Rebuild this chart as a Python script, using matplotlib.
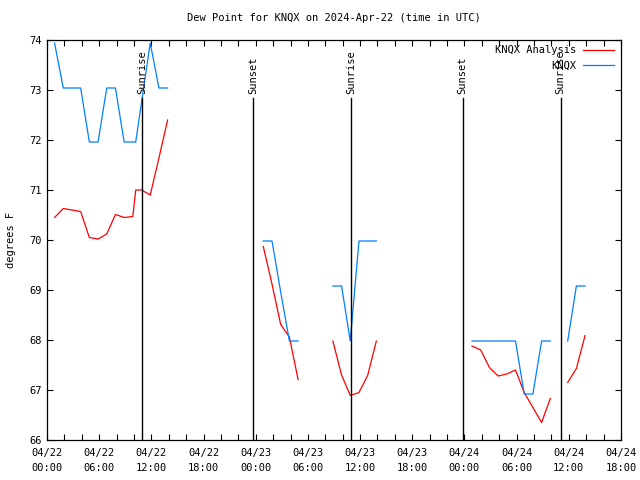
import matplotlib
matplotlib.use("Agg")
import matplotlib.pyplot as plt
import numpy as np

FONT = "DejaVu Sans Mono"
FS = 7.5

# hours since 2024-04-22 00:00 UTC
analysis_hours = [0.87, 1.87, 2.87, 3.87, 4.87, 5.87, 6.87, 7.87, 8.87, 9.87, 10.2, 10.87, 11.87, 12.87, 13.87,
                  24.87, 25.87, 26.87, 27.87, 28.87,
                  32.87, 33.87, 34.87, 35.87, 36.87, 37.87,
                  48.87, 49.87, 50.87, 51.87, 52.87, 53.87, 54.87, 55.87, 56.87, 57.87,
                  59.87, 60.87, 61.87]
analysis_vals = [70.45, 70.63, 70.60, 70.57, 70.05, 70.02, 70.12, 70.51, 70.45, 70.47, 71.00, 71.00, 70.90, 71.64, 72.40,
                 69.87, 69.12, 68.31, 68.06, 67.21,
                 67.98, 67.30, 66.89, 66.95, 67.29, 67.98,
                 67.88, 67.80, 67.45, 67.28, 67.32, 67.40, 66.95, 66.65, 66.35, 66.83,
                 67.15, 67.43, 68.09]

obs_hours = [0.87, 1.87, 2.87, 3.87, 4.87, 5.87, 6.87, 7.87, 8.87, 9.87, 10.2, 11.87, 12.87, 13.87,
             24.87, 25.87, 26.87, 27.87, 28.87,
             32.87, 33.87, 34.87, 35.87, 36.87, 37.87,
             48.87, 49.87, 50.87, 51.87, 52.87, 53.87, 54.87, 55.87, 56.87, 57.87,
             59.87, 60.87, 61.87]
obs_vals = [73.94, 73.04, 73.04, 73.04, 71.96, 71.96, 73.04, 73.04, 71.96, 71.96, 71.96, 73.94, 73.04, 73.04,
            69.98, 69.98, 68.96, 67.98, 67.98,
            69.08, 69.08, 67.98, 69.98, 69.98, 69.98,
            67.98, 67.98, 67.98, 67.98, 67.98, 67.98, 66.92, 66.92, 67.98, 67.98,
            67.98, 69.08, 69.08]

sun_hours = [10.95, 23.72, 34.95, 47.8, 59.05]
sun_labels = ["Sunrise", "Sunset", "Sunrise", "Sunset", "Sunrise"]

xtick_hours = [0, 6, 12, 18, 24, 30, 36, 42, 48, 54, 60, 66]
xtick_labels = ["04/22\n00:00", "04/22\n06:00", "04/22\n12:00", "04/22\n18:00",
                "04/23\n00:00", "04/23\n06:00", "04/23\n12:00", "04/23\n18:00",
                "04/24\n00:00", "04/24\n06:00", "04/24\n12:00", "04/24\n18:00"]
yticks = [66, 67, 68, 69, 70, 71, 72, 73, 74]


def segments(h, v, gap=1.9):
    h = np.asarray(h, float); v = np.asarray(v, float)
    breaks = np.where(np.diff(h) > gap)[0] + 1
    return zip(np.split(h, breaks), np.split(v, breaks))


fig = plt.figure(figsize=(6.4, 4.8), dpi=100)
ax = fig.add_axes([47/640, 40/480, 574/640, 400/480])

red = "#ff0000"
blue = "#0080ff"
first = True
for hh, vv in segments(analysis_hours, analysis_vals):
    ax.plot(hh, vv, color=red, lw=0.9, label="KNQX Analysis" if first else None)
    first = False
first = True
for hh, vv in segments(obs_hours, obs_vals):
    ax.plot(hh, vv, color=blue, lw=0.9, label="KNQX" if first else None)
    first = False

for sh, sl in zip(sun_hours, sun_labels):
    ax.plot([sh, sh], [66, 72.84], color="black", lw=1.0)
    ax.text(sh, 72.92, sl, rotation=90, ha="center", va="bottom",
            fontsize=FS, family=FONT)

ax.set_xlim(0, 66)
ax.set_ylim(66, 74)
ax.set_xticks(xtick_hours)
ax.set_xticklabels(xtick_labels, fontsize=FS, family=FONT, linespacing=1.6)
ax.set_xticks(np.arange(0, 67, 2), minor=True)
ax.set_yticks(yticks)
ax.set_yticklabels([str(y) for y in yticks], fontsize=FS, family=FONT)
ax.tick_params(which="both", direction="in", top=True, right=True, length=4, width=0.8)
ax.tick_params(axis="x", pad=6)
for s in ax.spines.values():
    s.set_linewidth(0.9)

ax.set_ylabel("degrees F", fontsize=FS, family=FONT, labelpad=10)
ax.set_title("Dew Point for KNQX on 2024-Apr-22 (time in UTC)", fontsize=FS, family=FONT, pad=14)

leg = ax.legend(loc="upper right", frameon=False, markerfirst=False,
                bbox_to_anchor=(0.995, 0.997), borderaxespad=0.0,
                prop={"family": FONT, "size": FS}, handlelength=3.0,
                labelspacing=0.5, handletextpad=0.6)

fig.savefig("out.png", dpi=100)
